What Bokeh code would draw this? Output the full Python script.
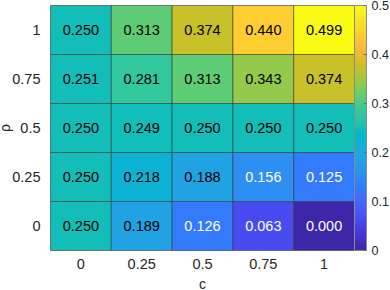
import numpy as np
from bokeh.plotting import figure
from bokeh.models import ColumnDataSource, LinearColorMapper, ColorBar, FixedTicker
from bokeh.core.properties import value
from bokeh.transform import transform
from bokeh.embed import file_html
from bokeh.resources import INLINE

# ---- data ----
c_labels = ["0", "0.25", "0.5", "0.75", "1"]
rho_labels = ["0", "0.25", "0.5", "0.75", "1"]
vals_rho_0 = [0.250, 0.189, 0.126, 0.063, 0.000]
vals_rho_025 = [0.250, 0.218, 0.188, 0.156, 0.125]
vals_rho_05 = [0.250, 0.249, 0.250, 0.250, 0.250]
vals_rho_075 = [0.251, 0.281, 0.313, 0.343, 0.374]
vals_rho_1 = [0.250, 0.313, 0.374, 0.440, 0.499]
cbar_ticks = [0, 0.1, 0.2, 0.3, 0.4, 0.5]
cbar_tick_labels = ["0", "0.1", "0.2", "0.3", "0.4", "0.5"]

rows = [vals_rho_0, vals_rho_025, vals_rho_05, vals_rho_075, vals_rho_1]

# ---- parula colormap ----
parula64 = np.array([
[0.2422,0.1504,0.6603],[0.2504,0.1650,0.7076],[0.2578,0.1818,0.7511],[0.2647,0.1978,0.7952],
[0.2706,0.2147,0.8364],[0.2751,0.2342,0.8710],[0.2783,0.2559,0.8991],[0.2803,0.2782,0.9221],
[0.2813,0.3006,0.9414],[0.2810,0.3228,0.9579],[0.2795,0.3447,0.9717],[0.2760,0.3667,0.9829],
[0.2699,0.3892,0.9906],[0.2602,0.4123,0.9952],[0.2440,0.4358,0.9988],[0.2206,0.4603,0.9973],
[0.1963,0.4847,0.9892],[0.1834,0.5074,0.9798],[0.1786,0.5289,0.9682],[0.1764,0.5499,0.9520],
[0.1687,0.5703,0.9359],[0.1540,0.5902,0.9218],[0.1460,0.6091,0.9079],[0.1380,0.6276,0.8973],
[0.1248,0.6459,0.8883],[0.1113,0.6635,0.8763],[0.0952,0.6798,0.8598],[0.0689,0.6948,0.8394],
[0.0297,0.7082,0.8163],[0.0036,0.7203,0.7917],[0.0067,0.7312,0.7660],[0.0433,0.7411,0.7394],
[0.0964,0.7500,0.7120],[0.1408,0.7584,0.6842],[0.1717,0.7670,0.6554],[0.1938,0.7758,0.6251],
[0.2161,0.7843,0.5923],[0.2470,0.7918,0.5567],[0.2906,0.7973,0.5188],[0.3406,0.8008,0.4789],
[0.3909,0.8029,0.4354],[0.4456,0.8024,0.3909],[0.5044,0.7993,0.3480],[0.5616,0.7942,0.3045],
[0.6174,0.7876,0.2612],[0.6720,0.7793,0.2227],[0.7242,0.7698,0.1910],[0.7738,0.7598,0.1646],
[0.8203,0.7498,0.1535],[0.8634,0.7406,0.1596],[0.9035,0.7330,0.1774],[0.9393,0.7288,0.2100],
[0.9728,0.7298,0.2394],[0.9956,0.7434,0.2371],[0.9970,0.7659,0.2199],[0.9952,0.7893,0.2028],
[0.9892,0.8136,0.1885],[0.9786,0.8386,0.1766],[0.9676,0.8639,0.1643],[0.9610,0.8890,0.1537],
[0.9597,0.9135,0.1423],[0.9628,0.9373,0.1265],[0.9691,0.9606,0.1064],[0.9769,0.9839,0.0805]])
t64 = np.linspace(0, 1, 64)
t256 = np.linspace(0, 1, 256)
pal = []
for t in t256:
    r = np.interp(t, t64, parula64[:, 0])
    g = np.interp(t, t64, parula64[:, 1])
    b = np.interp(t, t64, parula64[:, 2])
    pal.append("#%02x%02x%02x" % (int(round(r * 255)), int(round(g * 255)), int(round(b * 255))))

mapper = LinearColorMapper(palette=pal, low=0, high=0.5)

xs, ys, vs, labs, tcs = [], [], [], [], []
for i, rl in enumerate(rho_labels):
    for j, cl in enumerate(c_labels):
        v = rows[i][j]
        xs.append(cl); ys.append(rl); vs.append(v)
        labs.append("%.3f" % v)
        tcs.append("#ffffff" if v < 0.17 else "#000000")
src = ColumnDataSource(dict(c=xs, rho=ys, v=vs, label=labs, tc=tcs))

FONT = "Liberation Sans"
TXT = "#262626"

p = figure(x_range=c_labels, y_range=rho_labels, frame_width=304, frame_height=245,
           output_backend="svg", toolbar_location=None,
           min_border_left=44, min_border_top=5, min_border_bottom=30, min_border_right=5,
           styles={"margin-left": "-6px"})
p.rect(x="c", y="rho", width=1, height=1, source=src,
       fill_color=transform("v", mapper), line_color="#303030", line_alpha=0.55, line_width=1)
p.text(x="c", y="rho", text="label", source=src, text_align="center", text_baseline="middle",
       text_font=value(FONT), text_font_size="14.5px", text_color="tc")

p.grid.visible = False
p.outline_line_color = "#8a8a8a"
p.outline_line_width = 1
for ax in (p.xaxis[0], p.yaxis[0]):
    ax.axis_line_color = None
    ax.major_tick_line_color = None
    ax.minor_tick_line_color = None
    ax.major_label_text_font = FONT
    ax.major_label_text_font_size = "14.5px"
    ax.major_label_text_color = TXT
    ax.axis_label_text_font = FONT
    ax.axis_label_text_font_size = "14px"
    ax.axis_label_text_font_style = "normal"
    ax.axis_label_text_color = TXT
p.xaxis.axis_label = "c"
p.yaxis.axis_label = "ρ"
p.yaxis.axis_label_text_line_height = 1.0
p.xaxis.major_label_standoff = 2
p.yaxis.major_label_standoff = 4
p.xaxis.axis_label_standoff = 4
p.yaxis.axis_label_standoff = -4

cb = ColorBar(color_mapper=mapper, ticker=FixedTicker(ticks=cbar_ticks),
              major_label_overrides={t: l for t, l in zip(cbar_ticks, cbar_tick_labels)},
              width=12, margin=5, padding=0, label_standoff=5,
              major_label_text_font=FONT, major_label_text_font_size="12.5px",
              major_label_text_color=TXT, major_tick_line_color="#6a6a6a",
              major_tick_in=3, major_tick_out=0, minor_tick_line_color=None,
              bar_line_color="#8a8a8a", background_fill_color=None, border_line_color=None)
p.add_layout(cb, "right")

open("out.html", "w").write(file_html(p, INLINE))
